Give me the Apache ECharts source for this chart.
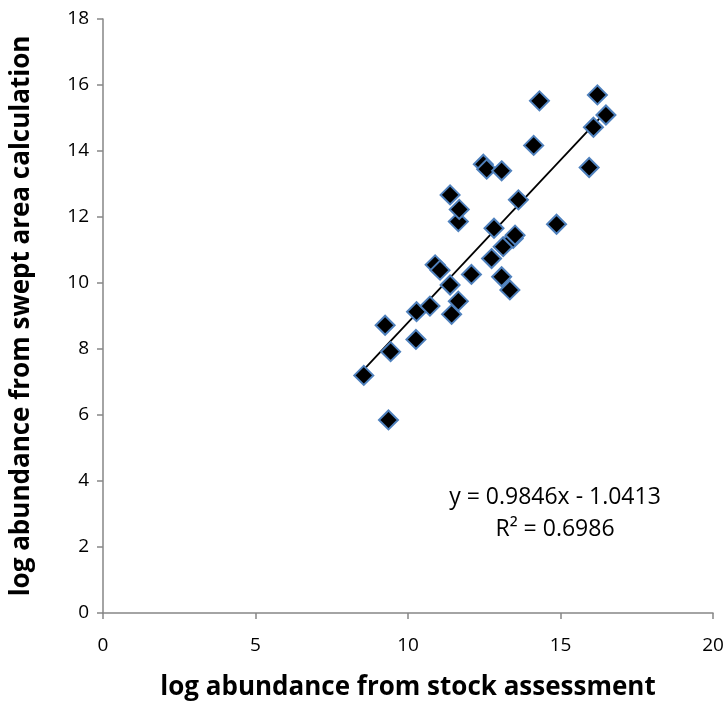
<!DOCTYPE html>
<html><head><meta charset="utf-8">
<script src="https://cdn.jsdelivr.net/npm/echarts@6/dist/echarts.min.js"></script>
<style>html,body{margin:0;padding:0;background:#fff}#c{width:728px;height:709px}</style>
</head><body><div id="c"></div>
<script>
const xValues = [8.55,9.25,9.36,9.43,10.26,10.28,10.72,10.89,11.05,11.38,11.43,11.38,11.65,11.65,11.68,12.08,12.47,12.58,12.74,12.82,13.12,13.07,13.07,13.34,13.45,13.51,13.62,14.12,14.31,14.87,15.94,16.08,16.21,16.49];
const yValues = [7.2,8.72,5.85,7.92,8.29,9.13,9.3,10.55,10.39,9.94,9.05,12.67,9.45,11.86,12.23,10.26,13.6,13.45,10.74,11.66,11.1,10.19,13.4,9.79,11.35,11.45,12.52,14.17,15.52,11.78,13.5,14.72,15.7,15.09];
const slope = 0.9846, intercept = -1.0413;
const equationText = "y = 0.9846x - 1.0413";
const r2Text = "R\u00B2 = 0.6986";
const xTitle = "log abundance from stock assessment";
const yTitle = "log abundance from swept area calculation";

const pts = xValues.map((x,i)=>[x,yValues[i]]);
const xmin = Math.min(...xValues), xmax = Math.max(...xValues);
const trend = [[xmin, slope*xmin+intercept],[xmax, slope*xmax+intercept]];
const font = "Open Sans, Liberation Sans, sans-serif";
const chart = echarts.init(document.getElementById('c'));
chart.setOption({
  animation:false,
  grid:{left:103,right:15,top:19,bottom:96,containLabel:false,outerBoundsMode:'none'},
  xAxis:{type:'value',min:0,max:20,interval:5,
    name:xTitle,nameLocation:'middle',nameGap:62,
    nameTextStyle:{fontFamily:font,fontWeight:'bold',fontSize:26,color:'#000'},
    axisLine:{lineStyle:{color:'#868686',width:1.5}},
    axisTick:{show:true,length:6,lineStyle:{color:'#868686',width:1.5}},
    axisLabel:{fontFamily:font,fontSize:19,color:'#000',margin:23},
    splitLine:{show:false}},
  yAxis:{type:'value',min:0,max:18,interval:2,
    name:yTitle,nameLocation:'middle',nameGap:68,
    nameTextStyle:{fontFamily:font,fontWeight:'bold',fontSize:26,color:'#000'},
    axisLine:{show:true,lineStyle:{color:'#868686',width:1.5}},
    axisTick:{show:true,length:6,lineStyle:{color:'#868686',width:1.5}},
    axisLabel:{fontFamily:font,fontSize:19,color:'#000',margin:14},
    splitLine:{show:false}},
  series:[
    {type:'scatter',data:pts,symbol:'diamond',symbolSize:[19,19],
      itemStyle:{color:'#000',opacity:1,borderColor:'#4F81BD',borderWidth:2},z:3},
    {type:'line',data:trend,symbol:'none',lineStyle:{color:'#000',width:1.8},z:2}
  ],
  graphic:[
    {type:'text',x:555,y:497,style:{text:equationText,font:'23px '+font,fill:'#000',align:'center',verticalAlign:'middle'}},
    {type:'text',x:555,y:529,style:{text:r2Text,font:'23px '+font,fill:'#000',align:'center',verticalAlign:'middle'}}
  ]
});
</script></body></html>
